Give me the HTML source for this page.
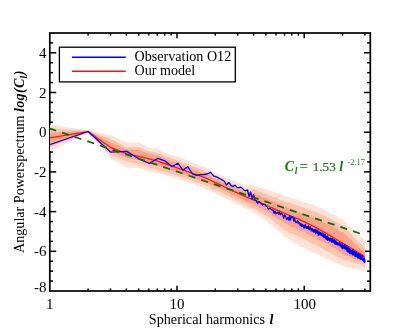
<!DOCTYPE html>
<html><head><meta charset="utf-8"><style>
html,body{margin:0;padding:0;background:#fff;}
svg{display:block;font-family:"Liberation Serif",serif;will-change:transform;transform:translateZ(0);}
</style></head><body>
<svg width="400" height="333" viewBox="0 0 400 333">
<rect width="400" height="333" fill="#fff"/>
<g stroke="#000" stroke-width="1.5"><line x1="88.09" y1="291.00" x2="88.09" y2="288.40"/><line x1="88.09" y1="33.00" x2="88.09" y2="35.60"/><line x1="110.49" y1="291.00" x2="110.49" y2="288.40"/><line x1="110.49" y1="33.00" x2="110.49" y2="35.60"/><line x1="126.38" y1="291.00" x2="126.38" y2="288.40"/><line x1="126.38" y1="33.00" x2="126.38" y2="35.60"/><line x1="138.71" y1="291.00" x2="138.71" y2="288.40"/><line x1="138.71" y1="33.00" x2="138.71" y2="35.60"/><line x1="148.78" y1="291.00" x2="148.78" y2="288.40"/><line x1="148.78" y1="33.00" x2="148.78" y2="35.60"/><line x1="157.30" y1="291.00" x2="157.30" y2="288.40"/><line x1="157.30" y1="33.00" x2="157.30" y2="35.60"/><line x1="164.67" y1="291.00" x2="164.67" y2="288.40"/><line x1="164.67" y1="33.00" x2="164.67" y2="35.60"/><line x1="171.18" y1="291.00" x2="171.18" y2="288.40"/><line x1="171.18" y1="33.00" x2="171.18" y2="35.60"/><line x1="177.00" y1="291.00" x2="177.00" y2="285.80"/><line x1="177.00" y1="33.00" x2="177.00" y2="38.20"/><line x1="215.29" y1="291.00" x2="215.29" y2="288.40"/><line x1="215.29" y1="33.00" x2="215.29" y2="35.60"/><line x1="237.69" y1="291.00" x2="237.69" y2="288.40"/><line x1="237.69" y1="33.00" x2="237.69" y2="35.60"/><line x1="253.58" y1="291.00" x2="253.58" y2="288.40"/><line x1="253.58" y1="33.00" x2="253.58" y2="35.60"/><line x1="265.91" y1="291.00" x2="265.91" y2="288.40"/><line x1="265.91" y1="33.00" x2="265.91" y2="35.60"/><line x1="275.98" y1="291.00" x2="275.98" y2="288.40"/><line x1="275.98" y1="33.00" x2="275.98" y2="35.60"/><line x1="284.50" y1="291.00" x2="284.50" y2="288.40"/><line x1="284.50" y1="33.00" x2="284.50" y2="35.60"/><line x1="291.87" y1="291.00" x2="291.87" y2="288.40"/><line x1="291.87" y1="33.00" x2="291.87" y2="35.60"/><line x1="298.38" y1="291.00" x2="298.38" y2="288.40"/><line x1="298.38" y1="33.00" x2="298.38" y2="35.60"/><line x1="304.20" y1="291.00" x2="304.20" y2="285.80"/><line x1="304.20" y1="33.00" x2="304.20" y2="38.20"/><line x1="342.49" y1="291.00" x2="342.49" y2="288.40"/><line x1="342.49" y1="33.00" x2="342.49" y2="35.60"/><line x1="364.89" y1="291.00" x2="364.89" y2="288.40"/><line x1="364.89" y1="33.00" x2="364.89" y2="35.60"/><line x1="49.80" y1="281.07" x2="53.00" y2="281.07"/><line x1="370.30" y1="281.07" x2="367.10" y2="281.07"/><line x1="49.80" y1="271.15" x2="53.00" y2="271.15"/><line x1="370.30" y1="271.15" x2="367.10" y2="271.15"/><line x1="49.80" y1="261.23" x2="53.00" y2="261.23"/><line x1="370.30" y1="261.23" x2="367.10" y2="261.23"/><line x1="49.80" y1="251.30" x2="56.20" y2="251.30"/><line x1="370.30" y1="251.30" x2="363.90" y2="251.30"/><line x1="49.80" y1="241.38" x2="53.00" y2="241.38"/><line x1="370.30" y1="241.38" x2="367.10" y2="241.38"/><line x1="49.80" y1="231.45" x2="53.00" y2="231.45"/><line x1="370.30" y1="231.45" x2="367.10" y2="231.45"/><line x1="49.80" y1="221.52" x2="53.00" y2="221.52"/><line x1="370.30" y1="221.52" x2="367.10" y2="221.52"/><line x1="49.80" y1="211.60" x2="56.20" y2="211.60"/><line x1="370.30" y1="211.60" x2="363.90" y2="211.60"/><line x1="49.80" y1="201.68" x2="53.00" y2="201.68"/><line x1="370.30" y1="201.68" x2="367.10" y2="201.68"/><line x1="49.80" y1="191.75" x2="53.00" y2="191.75"/><line x1="370.30" y1="191.75" x2="367.10" y2="191.75"/><line x1="49.80" y1="181.82" x2="53.00" y2="181.82"/><line x1="370.30" y1="181.82" x2="367.10" y2="181.82"/><line x1="49.80" y1="171.90" x2="56.20" y2="171.90"/><line x1="370.30" y1="171.90" x2="363.90" y2="171.90"/><line x1="49.80" y1="161.97" x2="53.00" y2="161.97"/><line x1="370.30" y1="161.97" x2="367.10" y2="161.97"/><line x1="49.80" y1="152.05" x2="53.00" y2="152.05"/><line x1="370.30" y1="152.05" x2="367.10" y2="152.05"/><line x1="49.80" y1="142.12" x2="53.00" y2="142.12"/><line x1="370.30" y1="142.12" x2="367.10" y2="142.12"/><line x1="49.80" y1="132.20" x2="56.20" y2="132.20"/><line x1="370.30" y1="132.20" x2="363.90" y2="132.20"/><line x1="49.80" y1="122.27" x2="53.00" y2="122.27"/><line x1="370.30" y1="122.27" x2="367.10" y2="122.27"/><line x1="49.80" y1="112.35" x2="53.00" y2="112.35"/><line x1="370.30" y1="112.35" x2="367.10" y2="112.35"/><line x1="49.80" y1="102.42" x2="53.00" y2="102.42"/><line x1="370.30" y1="102.42" x2="367.10" y2="102.42"/><line x1="49.80" y1="92.50" x2="56.20" y2="92.50"/><line x1="370.30" y1="92.50" x2="363.90" y2="92.50"/><line x1="49.80" y1="82.57" x2="53.00" y2="82.57"/><line x1="370.30" y1="82.57" x2="367.10" y2="82.57"/><line x1="49.80" y1="72.65" x2="53.00" y2="72.65"/><line x1="370.30" y1="72.65" x2="367.10" y2="72.65"/><line x1="49.80" y1="62.72" x2="53.00" y2="62.72"/><line x1="370.30" y1="62.72" x2="367.10" y2="62.72"/><line x1="49.80" y1="52.80" x2="56.20" y2="52.80"/><line x1="370.30" y1="52.80" x2="363.90" y2="52.80"/><line x1="49.80" y1="42.87" x2="53.00" y2="42.87"/><line x1="370.30" y1="42.87" x2="367.10" y2="42.87"/></g>
<rect x="49.8" y="33.0" width="320.5" height="258.0" fill="none" stroke="#000" stroke-width="1.7"/>
<path d="M50.0,124.8 L88.0,130.3 L110.8,135.3 L126.8,142.4 L139.0,142.4 L149.1,147.9 L157.7,148.8 L165.1,152.9 L171.6,154.9 L177.5,156.5 L192.0,162.6 L206.3,167.8 L209.5,169.5 L212.5,170.9 L215.3,172.4 L218.0,173.6 L220.6,174.9 L223.0,176.2 L225.4,176.9 L227.6,178.1 L229.8,178.8 L231.9,179.5 L233.9,181.0 L235.8,181.2 L237.7,182.2 L239.5,183.2 L241.3,183.8 L243.0,184.2 L244.6,185.1 L246.2,185.3 L247.8,185.8 L249.3,184.9 L250.7,185.6 L252.2,185.2 L253.6,185.4 L254.9,186.1 L256.3,186.1 L257.6,186.6 L258.8,187.3 L260.1,187.9 L261.3,187.6 L262.5,188.2 L263.7,188.4 L264.8,188.8 L265.9,189.4 L267.0,189.3 L268.1,189.8 L269.1,190.0 L270.2,190.9 L271.2,190.9 L272.2,191.4 L273.1,191.8 L274.1,191.1 L275.1,191.8 L276.0,192.7 L276.9,193.0 L277.8,192.4 L278.7,192.8 L279.5,193.6 L280.4,193.5 L281.2,194.1 L282.1,194.2 L282.9,195.4 L283.7,195.9 L284.5,196.4 L285.3,195.7 L286.1,196.7 L286.8,196.9 L287.6,196.4 L288.3,197.6 L289.0,198.0 L289.8,197.2 L290.5,198.4 L291.2,197.9 L291.9,198.2 L292.6,199.1 L293.2,199.1 L293.9,198.4 L294.6,199.0 L295.2,199.3 L295.9,199.3 L296.5,199.3 L297.1,199.7 L297.8,200.4 L298.4,199.6 L299.0,200.6 L299.6,200.6 L300.2,200.2 L300.8,200.9 L301.4,201.5 L301.9,201.5 L302.5,201.0 L303.1,202.5 L303.6,202.4 L304.2,202.8 L304.7,201.8 L305.3,202.2 L305.8,202.1 L306.4,203.3 L306.9,202.7 L307.4,202.7 L307.9,203.3 L308.5,204.1 L309.0,204.2 L309.5,203.5 L310.0,203.5 L310.5,204.8 L311.0,204.4 L311.4,204.8 L311.9,204.1 L312.4,204.2 L312.9,205.2 L313.3,205.0 L313.8,204.7 L314.3,206.0 L314.7,205.7 L315.2,206.1 L315.6,205.3 L316.1,206.5 L316.5,205.5 L317.0,206.8 L317.4,206.4 L317.8,206.5 L318.3,207.0 L318.7,207.7 L319.1,207.0 L319.5,207.0 L320.0,207.8 L320.4,207.6 L320.8,207.6 L321.2,207.9 L321.6,208.0 L322.0,208.4 L322.4,208.7 L322.8,208.9 L323.2,209.7 L323.6,209.3 L324.0,209.8 L324.3,209.5 L324.7,209.9 L325.1,209.7 L325.5,210.2 L325.9,210.0 L326.2,211.2 L326.6,211.2 L327.0,210.9 L327.3,211.4 L327.7,212.3 L328.1,211.3 L328.4,212.5 L328.8,212.1 L329.1,212.4 L329.5,213.0 L329.8,212.6 L330.2,212.9 L330.5,213.3 L330.9,213.9 L331.2,213.2 L331.5,214.1 L331.9,214.1 L332.2,214.2 L332.5,214.0 L332.9,214.1 L333.2,213.9 L333.5,214.2 L333.8,214.3 L334.2,215.4 L334.5,214.9 L334.8,214.9 L335.1,215.0 L335.4,216.2 L335.7,216.4 L336.1,216.3 L336.4,216.0 L336.7,216.1 L337.0,216.3 L337.3,216.7 L337.6,216.4 L337.9,217.0 L338.2,216.9 L338.5,218.1 L338.8,218.2 L339.1,217.8 L339.4,217.5 L339.7,218.7 L339.9,217.9 L340.2,218.2 L340.5,217.8 L340.8,218.5 L341.1,218.8 L341.4,219.0 L341.7,218.7 L341.9,219.3 L342.2,218.7 L342.5,219.3 L342.8,219.2 L343.0,219.7 L343.3,219.4 L343.6,219.5 L343.9,220.1 L344.1,220.2 L344.4,220.9 L344.7,221.1 L344.9,221.7 L345.2,221.9 L345.4,222.2 L345.7,222.7 L346.0,222.3 L346.2,222.5 L346.5,223.7 L346.7,222.8 L347.0,223.8 L347.3,224.0 L347.5,223.4 L347.8,224.8 L348.0,225.1 L348.3,225.0 L348.5,225.4 L348.8,225.8 L349.0,225.1 L349.2,225.9 L349.5,226.1 L349.7,226.8 L350.0,227.0 L350.2,227.3 L350.5,227.2 L350.7,227.9 L350.9,227.9 L351.2,228.1 L351.4,227.7 L351.6,227.7 L351.9,228.1 L352.1,228.6 L352.3,228.5 L352.6,229.8 L352.8,229.6 L353.0,230.0 L353.2,230.2 L353.5,230.5 L353.7,230.5 L353.9,230.0 L354.2,231.4 L354.4,231.6 L354.6,231.4 L354.8,231.7 L355.0,232.1 L355.3,231.5 L355.5,232.7 L355.7,232.2 L355.9,232.2 L356.1,232.7 L356.3,233.6 L356.6,233.1 L356.8,234.0 L357.0,234.6 L357.2,234.1 L357.4,234.2 L357.6,234.5 L357.8,235.0 L358.0,235.3 L358.2,235.3 L358.5,235.5 L358.7,234.9 L358.9,235.1 L359.1,235.5 L359.3,236.3 L359.5,235.9 L359.7,236.4 L359.9,235.8 L360.1,236.0 L360.3,236.5 L360.5,237.2 L360.7,237.4 L360.9,237.6 L361.1,237.2 L361.3,237.7 L361.5,237.8 L361.7,237.9 L361.9,237.6 L362.1,238.9 L362.2,238.1 L362.4,239.3 L362.6,239.4 L362.8,238.3 L363.0,239.1 L363.2,239.7 L363.4,240.1 L363.6,239.5 L363.8,239.4 L364.0,239.5 L364.1,240.7 L364.3,239.8 L364.5,240.5 L364.7,240.0 L364.9,240.7 L364.9,271.6 L364.7,270.8 L364.5,270.8 L364.3,271.0 L364.1,271.6 L364.0,270.8 L363.8,270.5 L363.6,271.5 L363.4,270.8 L363.2,270.7 L363.0,270.6 L362.8,271.0 L362.6,271.1 L362.4,271.1 L362.2,271.0 L362.1,271.0 L361.9,270.0 L361.7,271.0 L361.5,270.3 L361.3,270.2 L361.1,269.9 L360.9,270.0 L360.7,270.7 L360.5,270.7 L360.3,269.9 L360.1,269.5 L359.9,269.2 L359.7,270.4 L359.5,269.9 L359.3,270.2 L359.1,269.9 L358.9,268.8 L358.7,269.1 L358.5,269.1 L358.2,269.6 L358.0,268.9 L357.8,269.3 L357.6,269.7 L357.4,268.7 L357.2,268.8 L357.0,269.5 L356.8,269.3 L356.6,268.5 L356.3,269.4 L356.1,268.2 L355.9,268.1 L355.7,268.1 L355.5,269.1 L355.3,269.1 L355.0,268.5 L354.8,267.9 L354.6,269.1 L354.4,268.3 L354.2,268.0 L353.9,269.0 L353.7,268.2 L353.5,268.3 L353.2,267.6 L353.0,268.1 L352.8,268.6 L352.6,268.6 L352.3,267.9 L352.1,267.7 L351.9,268.7 L351.6,267.5 L351.4,268.6 L351.2,267.7 L350.9,267.5 L350.7,267.1 L350.5,267.3 L350.2,267.5 L350.0,267.5 L349.7,267.5 L349.5,267.8 L349.2,266.9 L349.0,267.9 L348.8,268.1 L348.5,267.0 L348.3,267.1 L348.0,267.9 L347.8,268.0 L347.5,267.6 L347.3,267.7 L347.0,267.7 L346.7,267.0 L346.5,266.4 L346.2,266.4 L346.0,266.5 L345.7,267.6 L345.4,266.5 L345.2,266.7 L344.9,266.3 L344.7,267.4 L344.4,266.9 L344.1,266.5 L343.9,266.2 L343.6,266.0 L343.3,266.3 L343.0,266.8 L342.8,265.8 L342.5,266.3 L342.2,265.4 L341.9,265.3 L341.7,266.0 L341.4,265.1 L341.1,265.9 L340.8,264.7 L340.5,265.0 L340.2,265.2 L339.9,265.2 L339.7,264.2 L339.4,264.7 L339.1,264.2 L338.8,264.0 L338.5,263.4 L338.2,263.5 L337.9,264.4 L337.6,263.9 L337.3,263.2 L337.0,263.2 L336.7,263.5 L336.4,263.1 L336.1,262.3 L335.7,262.5 L335.4,262.9 L335.1,263.1 L334.8,262.0 L334.5,261.8 L334.2,262.0 L333.8,262.4 L333.5,262.0 L333.2,262.3 L332.9,261.4 L332.5,261.0 L332.2,260.5 L331.9,261.1 L331.5,260.5 L331.2,260.5 L330.9,260.6 L330.5,260.4 L330.2,259.6 L329.8,259.5 L329.5,260.2 L329.1,259.9 L328.8,259.2 L328.4,258.9 L328.1,259.0 L327.7,259.3 L327.3,259.5 L327.0,258.4 L326.6,259.0 L326.2,257.8 L325.9,258.3 L325.5,258.0 L325.1,258.3 L324.7,258.0 L324.3,257.9 L324.0,258.0 L323.6,257.5 L323.2,257.1 L322.8,256.4 L322.4,256.2 L322.0,256.2 L321.6,257.0 L321.2,256.7 L320.8,256.4 L320.4,256.4 L320.0,255.5 L319.5,254.7 L319.1,255.3 L318.7,255.0 L318.3,255.4 L317.8,254.9 L317.4,253.8 L317.0,253.6 L316.5,254.6 L316.1,254.3 L315.6,254.3 L315.2,253.3 L314.7,253.1 L314.3,252.6 L313.8,252.5 L313.3,252.2 L312.9,252.9 L312.4,252.3 L311.9,251.9 L311.4,251.1 L311.0,252.1 L310.5,250.9 L310.0,250.4 L309.5,250.5 L309.0,250.3 L308.5,250.3 L307.9,249.9 L307.4,249.7 L306.9,249.9 L306.4,249.8 L305.8,249.2 L305.3,248.5 L304.7,248.2 L304.2,247.7 L303.6,247.8 L303.1,247.2 L302.5,247.0 L301.9,246.6 L301.4,246.7 L300.8,247.1 L300.2,246.6 L299.6,245.3 L299.0,245.3 L298.4,245.6 L297.8,244.2 L297.1,243.8 L296.5,243.4 L295.9,243.4 L295.2,243.2 L294.6,242.5 L293.9,242.6 L293.2,241.7 L292.6,242.3 L291.9,241.6 L291.2,240.5 L290.5,240.2 L289.8,239.9 L289.0,238.9 L288.3,239.5 L287.6,237.8 L286.8,237.6 L286.1,237.5 L285.3,237.1 L284.5,236.1 L283.7,235.7 L282.9,234.1 L282.1,234.3 L281.2,233.3 L280.4,233.1 L279.5,232.3 L278.7,231.1 L277.8,230.6 L276.9,229.9 L276.0,229.2 L275.1,227.6 L274.1,226.6 L273.1,226.2 L272.2,225.1 L271.2,224.3 L270.2,224.5 L269.1,222.8 L268.1,222.7 L267.0,220.8 L265.9,219.9 L264.8,219.4 L263.7,218.8 L262.5,217.9 L261.3,217.4 L260.1,217.2 L258.8,215.5 L257.6,214.6 L256.3,213.6 L254.9,213.6 L253.6,212.6 L252.2,212.2 L250.7,210.3 L249.3,210.6 L247.8,209.7 L246.2,207.8 L244.6,208.2 L243.0,206.7 L241.3,205.9 L239.5,204.8 L237.7,204.1 L235.8,203.4 L233.9,202.5 L231.9,201.0 L229.8,200.1 L227.6,199.4 L225.4,198.6 L223.0,197.0 L220.6,196.0 L218.0,194.8 L215.3,193.3 L212.5,192.0 L209.5,190.4 L206.3,188.9 L192.0,183.5 L177.5,178.8 L171.6,176.9 L165.1,175.0 L157.7,173.1 L149.1,171.6 L139.0,168.0 L126.8,167.4 L110.8,158.7 L88.0,132.9 L50.0,151.3Z" fill="#fde2d6"/>
<path d="M50.0,128.6 L88.0,130.7 L110.8,139.0 L126.8,147.2 L139.0,147.2 L149.1,151.3 L157.7,152.9 L165.1,156.3 L171.6,158.3 L177.5,160.5 L192.0,166.1 L206.3,171.5 L209.5,173.1 L212.5,174.6 L215.3,176.1 L218.0,177.1 L220.6,178.2 L223.0,179.4 L225.4,180.8 L227.6,181.9 L229.8,182.6 L231.9,183.3 L233.9,184.3 L235.8,185.3 L237.7,186.2 L239.5,187.1 L241.3,187.9 L243.0,188.4 L244.6,188.4 L246.2,189.6 L247.8,189.0 L249.3,189.5 L250.7,189.3 L252.2,189.9 L253.6,189.2 L254.9,189.4 L256.3,189.9 L257.6,190.2 L258.8,191.7 L260.1,191.8 L261.3,191.9 L262.5,192.4 L263.7,193.7 L264.8,193.5 L265.9,193.5 L267.0,194.7 L268.1,194.9 L269.1,195.8 L270.2,195.0 L271.2,195.9 L272.2,196.7 L273.1,197.1 L274.1,197.6 L275.1,196.8 L276.0,197.5 L276.9,197.6 L277.8,198.1 L278.7,199.6 L279.5,199.4 L280.4,200.2 L281.2,199.8 L282.1,200.8 L282.9,200.5 L283.7,200.6 L284.5,201.7 L285.3,202.2 L286.1,201.3 L286.8,202.2 L287.6,202.5 L288.3,202.2 L289.0,202.6 L289.8,202.6 L290.5,202.9 L291.2,203.2 L291.9,203.9 L292.6,204.3 L293.2,203.9 L293.9,203.8 L294.6,204.5 L295.2,205.3 L295.9,204.8 L296.5,205.2 L297.1,205.3 L297.8,206.3 L298.4,206.2 L299.0,205.7 L299.6,206.0 L300.2,206.6 L300.8,207.1 L301.4,207.4 L301.9,206.8 L302.5,207.1 L303.1,208.1 L303.6,207.9 L304.2,207.9 L304.7,208.1 L305.3,209.2 L305.8,208.4 L306.4,209.0 L306.9,208.8 L307.4,209.1 L307.9,209.9 L308.5,210.2 L309.0,209.5 L309.5,209.4 L310.0,210.3 L310.5,209.8 L311.0,209.7 L311.4,211.1 L311.9,210.5 L312.4,211.3 L312.9,210.8 L313.3,211.6 L313.8,211.2 L314.3,210.9 L314.7,210.9 L315.2,211.8 L315.6,212.0 L316.1,212.6 L316.5,211.5 L317.0,212.4 L317.4,212.3 L317.8,212.7 L318.3,212.4 L318.7,212.8 L319.1,213.3 L319.5,214.1 L320.0,213.2 L320.4,213.9 L320.8,214.5 L321.2,215.0 L321.6,214.1 L322.0,214.2 L322.4,215.5 L322.8,215.8 L323.2,215.3 L323.6,214.9 L324.0,216.3 L324.3,215.7 L324.7,216.6 L325.1,216.4 L325.5,216.9 L325.9,216.1 L326.2,217.2 L326.6,216.6 L327.0,217.0 L327.3,217.8 L327.7,218.0 L328.1,217.2 L328.4,217.4 L328.8,217.9 L329.1,218.2 L329.5,218.2 L329.8,218.0 L330.2,218.3 L330.5,219.2 L330.9,219.6 L331.2,218.6 L331.5,219.5 L331.9,220.0 L332.2,219.2 L332.5,220.5 L332.9,219.6 L333.2,220.5 L333.5,220.6 L333.8,220.9 L334.2,220.6 L334.5,221.0 L334.8,221.4 L335.1,221.3 L335.4,221.8 L335.7,221.7 L336.1,221.9 L336.4,221.5 L336.7,222.5 L337.0,222.5 L337.3,222.3 L337.6,223.2 L337.9,223.4 L338.2,223.1 L338.5,222.9 L338.8,223.5 L339.1,223.1 L339.4,223.3 L339.7,223.9 L339.9,223.6 L340.2,224.2 L340.5,224.5 L340.8,224.0 L341.1,225.0 L341.4,224.4 L341.7,225.4 L341.9,225.6 L342.2,225.4 L342.5,224.9 L342.8,225.7 L343.0,225.7 L343.3,226.7 L343.6,225.7 L343.9,226.8 L344.1,227.2 L344.4,227.2 L344.7,227.6 L344.9,227.0 L345.2,228.4 L345.4,228.0 L345.7,229.0 L346.0,229.2 L346.2,228.4 L346.5,229.6 L346.7,230.1 L347.0,229.1 L347.3,229.8 L347.5,230.7 L347.8,230.1 L348.0,231.4 L348.3,230.8 L348.5,231.9 L348.8,231.2 L349.0,232.0 L349.2,232.8 L349.5,232.1 L349.7,232.5 L350.0,233.1 L350.2,233.1 L350.5,232.9 L350.7,233.4 L350.9,233.7 L351.2,235.0 L351.4,234.9 L351.6,235.5 L351.9,234.7 L352.1,235.8 L352.3,235.2 L352.6,236.0 L352.8,236.4 L353.0,236.3 L353.2,237.2 L353.5,237.0 L353.7,237.3 L353.9,238.0 L354.2,237.2 L354.4,238.7 L354.6,238.4 L354.8,238.3 L355.0,239.1 L355.3,238.6 L355.5,239.9 L355.7,239.5 L355.9,239.5 L356.1,240.3 L356.3,240.1 L356.6,239.9 L356.8,241.0 L357.0,240.2 L357.2,241.6 L357.4,241.0 L357.6,241.8 L357.8,242.4 L358.0,242.0 L358.2,242.3 L358.5,242.0 L358.7,241.8 L358.9,242.0 L359.1,242.3 L359.3,243.1 L359.5,243.0 L359.7,243.3 L359.9,244.0 L360.1,243.1 L360.3,243.4 L360.5,244.2 L360.7,243.5 L360.9,243.6 L361.1,244.3 L361.3,244.1 L361.5,244.6 L361.7,244.6 L361.9,245.3 L362.1,245.4 L362.2,245.1 L362.4,245.8 L362.6,245.8 L362.8,245.5 L363.0,246.7 L363.2,245.9 L363.4,246.0 L363.6,246.0 L363.8,247.0 L364.0,247.4 L364.1,247.5 L364.3,247.1 L364.5,247.1 L364.7,246.9 L364.9,247.9 L364.9,266.4 L364.7,266.2 L364.5,266.4 L364.3,266.1 L364.1,266.0 L364.0,265.3 L363.8,265.8 L363.6,266.3 L363.4,266.1 L363.2,265.1 L363.0,265.6 L362.8,264.8 L362.6,266.1 L362.4,265.3 L362.2,265.1 L362.1,265.6 L361.9,265.3 L361.7,264.6 L361.5,265.6 L361.3,265.1 L361.1,264.7 L360.9,264.9 L360.7,264.6 L360.5,264.5 L360.3,264.2 L360.1,264.6 L359.9,264.7 L359.7,264.7 L359.5,264.1 L359.3,263.6 L359.1,264.3 L358.9,263.8 L358.7,263.9 L358.5,264.1 L358.2,264.0 L358.0,264.2 L357.8,263.9 L357.6,263.9 L357.4,264.0 L357.2,263.8 L357.0,263.0 L356.8,263.2 L356.6,263.6 L356.3,263.3 L356.1,263.1 L355.9,263.7 L355.7,263.4 L355.5,262.9 L355.3,263.1 L355.0,262.4 L354.8,262.8 L354.6,262.9 L354.4,262.7 L354.2,262.9 L353.9,263.0 L353.7,262.4 L353.5,261.8 L353.2,262.2 L353.0,261.9 L352.8,261.7 L352.6,262.4 L352.3,261.7 L352.1,262.0 L351.9,262.3 L351.6,262.4 L351.4,262.6 L351.2,261.7 L350.9,261.2 L350.7,262.4 L350.5,261.1 L350.2,261.9 L350.0,262.2 L349.7,261.0 L349.5,261.1 L349.2,260.8 L349.0,261.3 L348.8,260.9 L348.5,260.8 L348.3,260.6 L348.0,260.5 L347.8,261.4 L347.5,261.1 L347.3,260.5 L347.0,260.3 L346.7,260.3 L346.5,261.1 L346.2,260.5 L346.0,259.9 L345.7,260.5 L345.4,260.7 L345.2,260.1 L344.9,259.7 L344.7,260.4 L344.4,260.2 L344.1,260.4 L343.9,259.4 L343.6,259.5 L343.3,259.4 L343.0,259.7 L342.8,259.7 L342.5,259.5 L342.2,259.1 L341.9,258.9 L341.7,258.4 L341.4,259.2 L341.1,258.3 L340.8,258.4 L340.5,258.8 L340.2,257.8 L339.9,257.5 L339.7,257.1 L339.4,258.2 L339.1,256.9 L338.8,257.9 L338.5,257.1 L338.2,257.0 L337.9,256.7 L337.6,257.0 L337.3,257.1 L337.0,256.8 L336.7,256.8 L336.4,255.6 L336.1,256.2 L335.7,255.4 L335.4,255.8 L335.1,255.9 L334.8,255.0 L334.5,255.0 L334.2,255.8 L333.8,254.6 L333.5,255.3 L333.2,254.5 L332.9,254.5 L332.5,253.9 L332.2,254.6 L331.9,254.0 L331.5,253.9 L331.2,253.0 L330.9,254.2 L330.5,253.7 L330.2,252.8 L329.8,252.3 L329.5,252.3 L329.1,253.0 L328.8,251.8 L328.4,252.7 L328.1,251.6 L327.7,251.8 L327.3,251.9 L327.0,251.2 L326.6,251.6 L326.2,250.9 L325.9,250.6 L325.5,249.9 L325.1,250.5 L324.7,250.6 L324.3,249.9 L324.0,250.3 L323.6,249.2 L323.2,249.1 L322.8,249.3 L322.4,248.5 L322.0,248.2 L321.6,247.7 L321.2,248.0 L320.8,247.6 L320.4,247.3 L320.0,247.8 L319.5,246.6 L319.1,246.4 L318.7,246.4 L318.3,246.7 L317.8,246.7 L317.4,246.2 L317.0,246.2 L316.5,246.0 L316.1,244.7 L315.6,244.5 L315.2,244.4 L314.7,244.1 L314.3,245.0 L313.8,244.7 L313.3,244.4 L312.9,243.1 L312.4,244.0 L311.9,243.7 L311.4,243.4 L311.0,242.5 L310.5,242.6 L310.0,241.6 L309.5,242.3 L309.0,242.0 L308.5,241.6 L307.9,241.5 L307.4,240.3 L306.9,240.0 L306.4,239.9 L305.8,239.9 L305.3,240.5 L304.7,239.0 L304.2,238.7 L303.6,238.5 L303.1,239.3 L302.5,237.9 L301.9,238.4 L301.4,237.6 L300.8,237.4 L300.2,237.5 L299.6,237.4 L299.0,236.8 L298.4,237.1 L297.8,236.6 L297.1,236.5 L296.5,235.6 L295.9,236.1 L295.2,235.3 L294.6,235.0 L293.9,234.6 L293.2,234.7 L292.6,233.5 L291.9,233.3 L291.2,233.7 L290.5,232.6 L289.8,232.9 L289.0,232.8 L288.3,232.1 L287.6,231.0 L286.8,230.7 L286.1,229.9 L285.3,230.8 L284.5,229.3 L283.7,229.7 L282.9,228.6 L282.1,227.4 L281.2,227.1 L280.4,226.9 L279.5,225.7 L278.7,225.2 L277.8,224.1 L276.9,224.0 L276.0,223.4 L275.1,222.5 L274.1,221.9 L273.1,220.6 L272.2,219.5 L271.2,219.0 L270.2,218.1 L269.1,217.5 L268.1,217.0 L267.0,216.6 L265.9,215.4 L264.8,215.1 L263.7,214.6 L262.5,212.8 L261.3,213.1 L260.1,212.5 L258.8,212.0 L257.6,210.1 L256.3,209.8 L254.9,209.0 L253.6,208.2 L252.2,208.4 L250.7,207.4 L249.3,206.5 L247.8,205.9 L246.2,204.6 L244.6,203.7 L243.0,204.0 L241.3,202.6 L239.5,201.2 L237.7,201.1 L235.8,199.5 L233.9,198.7 L231.9,197.9 L229.8,197.0 L227.6,195.6 L225.4,195.1 L223.0,193.5 L220.6,192.6 L218.0,191.5 L215.3,190.0 L212.5,188.7 L209.5,187.3 L206.3,185.8 L192.0,180.6 L177.5,175.8 L171.6,173.9 L165.1,172.0 L157.7,169.8 L149.1,167.5 L139.0,164.0 L126.8,161.4 L110.8,155.0 L88.0,132.5 L50.0,146.9Z" fill="#fcc3ad"/>
<path d="M50.0,132.7 L88.0,131.1 L110.8,142.5 L126.8,149.6 L139.0,150.0 L149.1,154.1 L157.7,155.6 L165.1,158.5 L171.6,161.3 L177.5,163.4 L192.0,168.9 L206.3,174.3 L209.5,175.8 L212.5,177.3 L215.3,178.8 L218.0,179.8 L220.6,181.3 L223.0,182.3 L225.4,183.7 L227.6,184.2 L229.8,185.8 L231.9,186.2 L233.9,186.8 L235.8,187.8 L237.7,188.8 L239.5,189.1 L241.3,190.4 L243.0,191.1 L244.6,192.2 L246.2,192.1 L247.8,192.2 L249.3,192.3 L250.7,193.3 L252.2,193.8 L253.6,193.4 L254.9,193.1 L256.3,194.5 L257.6,194.5 L258.8,194.9 L260.1,195.3 L261.3,196.8 L262.5,197.3 L263.7,197.6 L264.8,197.9 L265.9,198.5 L267.0,198.5 L268.1,200.0 L269.1,199.6 L270.2,200.5 L271.2,201.2 L272.2,201.6 L273.1,201.5 L274.1,201.7 L275.1,202.5 L276.0,202.3 L276.9,203.7 L277.8,203.4 L278.7,204.5 L279.5,204.1 L280.4,204.6 L281.2,204.8 L282.1,205.5 L282.9,205.5 L283.7,205.6 L284.5,207.0 L285.3,206.7 L286.1,206.9 L286.8,207.2 L287.6,207.7 L288.3,207.9 L289.0,208.5 L289.8,208.8 L290.5,208.6 L291.2,209.7 L291.9,209.9 L292.6,209.0 L293.2,210.4 L293.9,210.7 L294.6,210.8 L295.2,210.2 L295.9,211.4 L296.5,211.4 L297.1,210.8 L297.8,211.0 L298.4,212.6 L299.0,212.4 L299.6,212.1 L300.2,212.1 L300.8,212.4 L301.4,212.7 L301.9,213.7 L302.5,213.4 L303.1,213.3 L303.6,214.6 L304.2,214.6 L304.7,214.0 L305.3,215.2 L305.8,215.0 L306.4,215.5 L306.9,215.5 L307.4,216.1 L307.9,216.1 L308.5,216.4 L309.0,215.7 L309.5,216.6 L310.0,216.5 L310.5,217.0 L311.0,216.8 L311.4,217.6 L311.9,217.4 L312.4,217.1 L312.9,217.3 L313.3,217.3 L313.8,218.0 L314.3,217.6 L314.7,218.3 L315.2,218.1 L315.6,218.7 L316.1,218.9 L316.5,219.1 L317.0,219.8 L317.4,218.8 L317.8,220.1 L318.3,219.8 L318.7,220.1 L319.1,220.5 L319.5,220.9 L320.0,220.4 L320.4,220.7 L320.8,221.6 L321.2,220.6 L321.6,221.5 L322.0,221.7 L322.4,221.0 L322.8,222.0 L323.2,222.3 L323.6,222.8 L324.0,222.2 L324.3,223.3 L324.7,222.8 L325.1,222.9 L325.5,223.7 L325.9,222.6 L326.2,223.7 L326.6,223.8 L327.0,223.5 L327.3,224.4 L327.7,223.9 L328.1,224.2 L328.4,224.5 L328.8,225.0 L329.1,224.3 L329.5,224.8 L329.8,224.9 L330.2,225.3 L330.5,225.8 L330.9,225.3 L331.2,226.2 L331.5,225.8 L331.9,226.2 L332.2,226.1 L332.5,226.6 L332.9,227.4 L333.2,227.2 L333.5,227.6 L333.8,227.1 L334.2,227.3 L334.5,227.5 L334.8,228.0 L335.1,228.3 L335.4,228.7 L335.7,227.8 L336.1,229.0 L336.4,229.4 L336.7,229.1 L337.0,228.6 L337.3,229.1 L337.6,228.9 L337.9,229.3 L338.2,230.5 L338.5,230.3 L338.8,230.5 L339.1,230.9 L339.4,231.2 L339.7,231.0 L339.9,231.2 L340.2,231.3 L340.5,231.6 L340.8,231.6 L341.1,231.9 L341.4,231.4 L341.7,232.2 L341.9,232.1 L342.2,232.7 L342.5,232.0 L342.8,232.2 L343.0,232.2 L343.3,233.4 L343.6,233.7 L343.9,233.5 L344.1,233.3 L344.4,234.2 L344.7,234.4 L344.9,234.4 L345.2,234.2 L345.4,234.5 L345.7,235.0 L346.0,235.1 L346.2,235.5 L346.5,236.0 L346.7,236.7 L347.0,235.7 L347.3,236.6 L347.5,236.2 L347.8,236.5 L348.0,237.7 L348.3,237.6 L348.5,238.4 L348.8,237.9 L349.0,237.6 L349.2,238.3 L349.5,238.8 L349.7,239.6 L350.0,239.9 L350.2,239.4 L350.5,239.5 L350.7,239.3 L350.9,240.3 L351.2,239.9 L351.4,240.1 L351.6,240.1 L351.9,240.3 L352.1,241.5 L352.3,240.9 L352.6,242.3 L352.8,241.3 L353.0,242.6 L353.2,241.8 L353.5,241.9 L353.7,243.1 L353.9,242.6 L354.2,243.6 L354.4,243.0 L354.6,243.0 L354.8,244.3 L355.0,244.4 L355.3,244.8 L355.5,244.8 L355.7,244.1 L355.9,245.1 L356.1,245.4 L356.3,245.3 L356.6,246.2 L356.8,245.4 L357.0,246.6 L357.2,246.5 L357.4,245.7 L357.6,245.9 L357.8,246.9 L358.0,247.3 L358.2,246.4 L358.5,246.9 L358.7,247.6 L358.9,247.0 L359.1,248.1 L359.3,247.7 L359.5,247.3 L359.7,247.8 L359.9,248.3 L360.1,248.2 L360.3,248.7 L360.5,248.1 L360.7,249.2 L360.9,248.7 L361.1,249.2 L361.3,249.3 L361.5,249.2 L361.7,249.3 L361.9,250.0 L362.1,250.3 L362.2,250.2 L362.4,250.1 L362.6,249.8 L362.8,249.6 L363.0,251.0 L363.2,250.8 L363.4,251.1 L363.6,250.5 L363.8,251.1 L364.0,251.7 L364.1,251.6 L364.3,251.5 L364.5,251.2 L364.7,251.5 L364.9,252.2 L364.9,262.7 L364.7,262.6 L364.5,262.0 L364.3,261.9 L364.1,262.7 L364.0,262.9 L363.8,261.7 L363.6,262.5 L363.4,262.2 L363.2,262.2 L363.0,262.2 L362.8,261.3 L362.6,261.5 L362.4,262.1 L362.2,261.2 L362.1,261.0 L361.9,262.1 L361.7,261.2 L361.5,260.9 L361.3,260.9 L361.1,260.9 L360.9,261.9 L360.7,260.5 L360.5,261.2 L360.3,261.1 L360.1,261.0 L359.9,260.9 L359.7,261.4 L359.5,261.3 L359.3,260.1 L359.1,260.9 L358.9,260.4 L358.7,260.7 L358.5,260.1 L358.2,260.8 L358.0,260.7 L357.8,260.4 L357.6,259.5 L357.4,260.0 L357.2,259.8 L357.0,259.8 L356.8,259.0 L356.6,259.8 L356.3,259.4 L356.1,259.0 L355.9,259.2 L355.7,259.7 L355.5,258.7 L355.3,258.8 L355.0,259.5 L354.8,258.9 L354.6,259.4 L354.4,258.0 L354.2,258.6 L353.9,259.0 L353.7,258.9 L353.5,258.1 L353.2,258.7 L353.0,257.5 L352.8,258.4 L352.6,257.8 L352.3,258.2 L352.1,257.2 L351.9,257.3 L351.6,257.7 L351.4,257.9 L351.2,257.7 L350.9,257.4 L350.7,256.8 L350.5,256.8 L350.2,257.0 L350.0,257.0 L349.7,256.2 L349.5,256.1 L349.2,256.2 L349.0,256.8 L348.8,256.8 L348.5,255.8 L348.3,255.7 L348.0,256.2 L347.8,255.6 L347.5,256.4 L347.3,255.7 L347.0,255.2 L346.7,255.6 L346.5,255.9 L346.2,254.6 L346.0,254.7 L345.7,254.9 L345.4,255.4 L345.2,254.2 L344.9,255.5 L344.7,254.4 L344.4,254.9 L344.1,253.8 L343.9,254.9 L343.6,253.9 L343.3,253.4 L343.0,254.4 L342.8,254.3 L342.5,254.1 L342.2,253.1 L341.9,252.7 L341.7,252.6 L341.4,252.5 L341.1,252.5 L340.8,252.0 L340.5,252.4 L340.2,252.6 L339.9,251.2 L339.7,252.3 L339.4,250.9 L339.1,251.9 L338.8,250.9 L338.5,250.9 L338.2,250.3 L337.9,250.3 L337.6,250.8 L337.3,249.8 L337.0,249.5 L336.7,249.6 L336.4,249.2 L336.1,249.9 L335.7,248.7 L335.4,249.1 L335.1,249.1 L334.8,248.0 L334.5,248.0 L334.2,247.7 L333.8,248.2 L333.5,247.7 L333.2,248.0 L332.9,247.1 L332.5,247.1 L332.2,247.1 L331.9,247.2 L331.5,247.1 L331.2,245.7 L330.9,246.0 L330.5,245.4 L330.2,246.2 L329.8,246.0 L329.5,245.9 L329.1,244.7 L328.8,245.6 L328.4,244.1 L328.1,244.2 L327.7,244.7 L327.3,243.5 L327.0,244.3 L326.6,243.3 L326.2,243.3 L325.9,243.0 L325.5,243.2 L325.1,242.5 L324.7,242.5 L324.3,242.4 L324.0,241.9 L323.6,242.6 L323.2,242.1 L322.8,241.5 L322.4,241.9 L322.0,242.0 L321.6,241.5 L321.2,240.5 L320.8,240.1 L320.4,241.2 L320.0,240.5 L319.5,240.4 L319.1,240.3 L318.7,239.0 L318.3,239.9 L317.8,239.8 L317.4,239.5 L317.0,238.5 L316.5,238.2 L316.1,237.7 L315.6,237.7 L315.2,238.5 L314.7,238.3 L314.3,236.9 L313.8,237.1 L313.3,236.8 L312.9,236.9 L312.4,237.1 L311.9,236.4 L311.4,236.1 L311.0,235.4 L310.5,236.1 L310.0,234.7 L309.5,234.8 L309.0,234.9 L308.5,233.9 L307.9,234.8 L307.4,234.6 L306.9,233.6 L306.4,233.9 L305.8,233.2 L305.3,232.2 L304.7,232.0 L304.2,231.9 L303.6,231.6 L303.1,231.1 L302.5,231.2 L301.9,231.9 L301.4,231.5 L300.8,231.1 L300.2,231.1 L299.6,230.1 L299.0,230.3 L298.4,229.3 L297.8,229.5 L297.1,229.1 L296.5,229.4 L295.9,229.2 L295.2,227.6 L294.6,227.3 L293.9,227.7 L293.2,227.2 L292.6,227.2 L291.9,226.3 L291.2,226.9 L290.5,226.3 L289.8,225.3 L289.0,225.3 L288.3,225.8 L287.6,224.1 L286.8,223.9 L286.1,224.1 L285.3,223.6 L284.5,223.3 L283.7,222.5 L282.9,222.4 L282.1,221.1 L281.2,220.6 L280.4,220.0 L279.5,219.9 L278.7,219.2 L277.8,218.6 L276.9,218.5 L276.0,217.9 L275.1,216.8 L274.1,215.7 L273.1,215.9 L272.2,215.3 L271.2,213.6 L270.2,213.5 L269.1,213.3 L268.1,212.6 L267.0,211.2 L265.9,210.4 L264.8,210.1 L263.7,209.8 L262.5,209.1 L261.3,208.0 L260.1,208.3 L258.8,207.4 L257.6,206.0 L256.3,206.2 L254.9,205.2 L253.6,203.9 L252.2,203.6 L250.7,203.8 L249.3,202.8 L247.8,202.3 L246.2,201.6 L244.6,200.1 L243.0,199.7 L241.3,199.3 L239.5,198.4 L237.7,197.5 L235.8,195.8 L233.9,195.7 L231.9,194.7 L229.8,193.5 L227.6,192.3 L225.4,191.1 L223.0,189.9 L220.6,189.0 L218.0,188.0 L215.3,186.8 L212.5,185.4 L209.5,184.0 L206.3,182.5 L192.0,177.5 L177.5,172.6 L171.6,170.5 L165.1,168.3 L157.7,165.7 L149.1,164.1 L139.0,160.0 L126.8,158.0 L110.8,151.0 L88.0,132.1 L50.0,142.8Z" fill="#fba386"/>
<path d="M50.0,137.8 L88.0,131.6 L110.8,147.5 L126.8,153.8 L139.0,156.4 L149.1,158.8 L157.7,161.2 L166.0,164.0 L170.0,165.4 L175.0,167.1 L180.0,168.9 L185.0,170.7 L190.0,172.4 L195.0,174.2 L200.0,175.9 L205.0,177.7 L210.0,180.0 L215.0,182.3 L220.0,184.7 L225.0,187.1 L230.0,189.5 L235.0,191.9 L240.0,194.2 L245.0,196.4 L250.0,198.5 L255.0,200.5 L260.0,202.7 L265.0,204.8 L270.0,207.0 L275.0,209.2 L280.0,211.4 L285.0,213.6 L290.0,215.6 L295.0,217.7 L300.0,219.8 L305.0,222.2 L310.0,224.6 L315.0,227.2 L320.0,229.8 L325.0,232.7 L330.0,235.6 L335.0,238.5 L340.0,241.5 L345.0,244.5 L350.0,247.5 L355.0,250.5 L360.0,253.6 L364.9,256.7" fill="none" stroke="#ff1a1a" stroke-width="1.35" stroke-linejoin="round"/>
<path d="M49.8,144.6 L88.1,131.5 L110.8,152.2 L126.8,151.4 L139.2,159.0 L149.4,163.4 L158.0,158.3 L165.4,161.2 L171.9,166.6 L177.8,163.2 L183.1,170.3 L187.9,166.6 L192.4,174.0 L196.5,175.4 L200.4,174.7 L203.9,174.5 L207.3,174.0 L210.5,172.4 L213.5,175.8 L216.4,176.9 L219.1,178.2 L221.7,179.6 L224.1,181.0 L226.5,185.0 L228.8,182.3 L231.0,185.7 L233.1,186.4 L235.1,185.2 L237.0,187.4 L238.9,187.7 L240.7,187.2 L242.5,188.5 L244.2,190.3 L245.9,190.7 L247.5,190.0 L249.1,196.5 L250.6,192.0 L252.1,199.0 L253.5,194.5 L254.9,200.0 L256.3,200.5 L257.6,203.5 L258.9,201.5 L260.2,202.5 L261.5,203.8 L262.7,205.0 L263.9,204.0 L265.1,204.5 L266.2,206.3 L267.3,207.0 L268.4,209.0 L269.5,208.5 L270.6,208.7 L272.2,210.2 L273.1,210.0 L274.1,213.3 L275.1,211.0 L276.0,213.8 L276.9,213.2 L277.8,211.9 L278.7,214.5 L279.5,212.3 L280.4,214.7 L281.2,213.2 L282.1,213.7 L282.9,215.8 L283.7,218.3 L284.5,215.0 L285.3,215.7 L286.1,217.9 L286.8,219.7 L287.6,218.0 L288.3,217.2 L289.0,220.3 L289.8,215.6 L290.5,220.0 L291.2,217.3 L291.9,216.9 L292.6,217.0 L293.2,218.2 L293.9,221.1 L294.6,218.5 L295.2,221.4 L295.9,222.5 L296.5,221.8 L297.1,222.9 L297.8,220.5 L298.4,221.8 L299.0,223.7 L299.6,222.6 L300.2,225.4 L300.8,223.6 L301.4,226.7 L301.9,224.1 L302.5,226.3 L303.1,224.9 L303.6,227.9 L304.2,225.7 L304.7,228.2 L305.3,224.3 L305.8,227.7 L306.4,226.5 L306.9,228.6 L307.4,226.5 L307.9,228.3 L308.5,226.0 L309.0,229.4 L309.5,227.2 L310.0,229.9 L310.5,226.9 L311.0,229.8 L311.4,228.6 L311.9,231.2 L312.4,228.6 L312.9,231.0 L313.3,229.3 L313.8,232.1 L314.3,229.3 L314.7,231.9 L315.2,229.5 L315.6,233.7 L316.1,229.8 L316.5,232.6 L317.0,230.2 L317.4,233.3 L317.8,230.3 L318.3,235.1 L318.7,232.2 L319.1,234.4 L319.5,231.9 L320.0,235.1 L320.4,232.4 L320.8,234.9 L321.2,233.7 L321.6,235.6 L322.0,232.9 L322.4,236.2 L322.8,234.4 L323.2,236.6 L323.6,233.9 L324.0,237.7 L324.3,234.9 L324.7,237.5 L325.1,234.4 L325.5,238.0 L325.9,235.8 L326.2,239.5 L326.6,236.7 L327.0,239.4 L327.3,236.0 L327.7,240.4 L328.1,237.2 L328.4,239.3 L328.8,237.8 L329.1,240.2 L329.5,238.4 L329.8,241.1 L330.2,238.2 L330.5,240.8 L330.9,238.2 L331.2,240.7 L331.5,238.8 L331.9,242.1 L332.2,238.5 L332.5,241.9 L332.9,239.0 L333.2,242.0 L333.5,240.6 L333.8,242.5 L334.2,239.7 L334.5,243.6 L334.8,240.2 L335.1,244.2 L335.4,241.0 L335.7,243.9 L336.1,241.0 L336.4,244.4 L336.7,242.1 L337.0,244.0 L337.3,242.7 L337.6,244.8 L337.9,243.0 L338.2,244.8 L338.5,242.9 L338.8,244.8 L339.1,243.0 L339.4,245.7 L339.7,242.0 L339.9,245.8 L340.2,244.0 L340.5,246.2 L340.8,244.7 L341.1,247.0 L341.4,244.7 L341.7,246.8 L341.9,243.4 L342.2,248.8 L342.5,244.2 L342.8,247.4 L343.0,245.3 L343.3,247.7 L343.6,245.6 L343.9,248.5 L344.1,246.1 L344.4,248.7 L344.7,244.4 L344.9,248.8 L345.2,246.5 L345.4,248.8 L345.7,247.2 L346.0,249.1 L346.2,245.3 L346.5,249.9 L346.7,246.9 L347.0,251.1 L347.3,248.3 L347.5,251.1 L347.8,247.7 L348.0,252.1 L348.3,246.9 L348.5,251.0 L348.8,248.9 L349.0,251.6 L349.2,248.3 L349.5,253.6 L349.7,248.6 L350.0,253.2 L350.2,249.4 L350.5,253.6 L350.7,250.3 L350.9,253.5 L351.2,250.6 L351.4,252.6 L351.6,250.1 L351.9,252.8 L352.1,251.3 L352.3,254.8 L352.6,250.4 L352.8,253.5 L353.0,249.5 L353.2,254.9 L353.5,251.1 L353.7,254.0 L353.9,252.3 L354.2,254.9 L354.4,252.5 L354.6,255.0 L354.8,251.1 L355.0,256.4 L355.3,252.5 L355.5,256.0 L355.7,252.3 L355.9,256.8 L356.1,252.2 L356.3,256.2 L356.6,252.2 L356.8,256.7 L357.0,254.4 L357.2,256.9 L357.4,253.8 L357.6,257.6 L357.8,254.0 L358.0,257.9 L358.2,254.1 L358.5,256.7 L358.7,253.3 L358.9,258.2 L359.1,255.5 L359.3,257.6 L359.5,255.5 L359.7,257.6 L359.9,254.6 L360.1,258.5 L360.3,255.2 L360.5,259.3 L360.7,255.1 L360.9,258.1 L361.1,256.1 L361.3,259.2 L361.5,257.0 L361.7,258.5 L361.9,255.8 L362.1,258.9 L362.2,255.5 L362.4,259.4 L362.6,256.0 L362.8,260.2 L363.0,258.0 L363.2,260.3 L363.4,258.7 L363.6,260.9 L363.8,258.9 L364.0,261.8 L364.1,259.3 L364.3,261.8 L364.5,258.1 L364.7,262.7 L364.9,259.3" fill="none" stroke="#0000ff" stroke-width="1.3" stroke-linejoin="round"/>
<g stroke="#0a6e0a" stroke-width="1.8"><line x1="49.34" y1="128.37" x2="360.20" y2="233.64" stroke-dasharray="7.15 6.21"/></g>
<rect x="59.4" y="47.2" width="175.9" height="34.7" fill="#fff" stroke="#000" stroke-width="1.3"/>
<line x1="72" y1="57.25" x2="125.75" y2="57.25" stroke="#0000ff" stroke-width="1.5"/>
<line x1="72" y1="71.25" x2="125.75" y2="71.25" stroke="#ff1010" stroke-width="1.5"/>
<g font-size="14px" fill="#000">
<text x="134.5" y="61.4" font-size="14.1px">Observation O12</text>
<text x="134.5" y="75.1" font-size="14.1px">Our model</text>
<text x="148.8" y="323.6" font-size="14.2px">Spherical harmonics <tspan font-weight="bold" font-style="italic" dx="0.8">l</tspan></text>
<text transform="translate(24.2,252.9) rotate(-90)" font-size="14.1px">Angular Powerspectrum <tspan font-weight="bold" font-style="italic" letter-spacing="0.3">log(C<tspan font-size="10px" dy="3">l</tspan><tspan dy="-3">)</tspan></tspan></text>
</g>
<g font-size="15px" fill="#000"><text x="46.5" y="292.4" text-anchor="end">-8</text><text x="46.5" y="256.3" text-anchor="end">-6</text><text x="46.5" y="216.6" text-anchor="end">-4</text><text x="46.5" y="176.9" text-anchor="end">-2</text><text x="46.5" y="137.2" text-anchor="end">0</text><text x="46.5" y="97.5" text-anchor="end">2</text><text x="46.5" y="57.8" text-anchor="end">4</text><text x="49.8" y="309.3" text-anchor="middle">1</text><text x="177.0" y="309.3" text-anchor="middle">10</text><text x="304.7" y="309.3" text-anchor="middle">100</text></g>
<g fill="#1a751a" font-size="14px">
<text x="284.8" y="170.8" font-weight="bold" font-style="italic">C<tspan font-size="9.5px" dy="3.3" dx="0.5">l</tspan></text>
<text x="299.7" y="170.8" font-size="14.2px" stroke="#1a751a" stroke-width="0.25">=</text>
<text x="312.7" y="170.8" font-size="13.2px" stroke="#1a751a" stroke-width="0.2">1.53</text>
<text x="339.3" y="170.8" font-weight="bold" font-style="italic">l</text>
<text x="347.4" y="165.2" font-size="8.5px">-2.17</text>
</g>
</svg>
</body></html>
